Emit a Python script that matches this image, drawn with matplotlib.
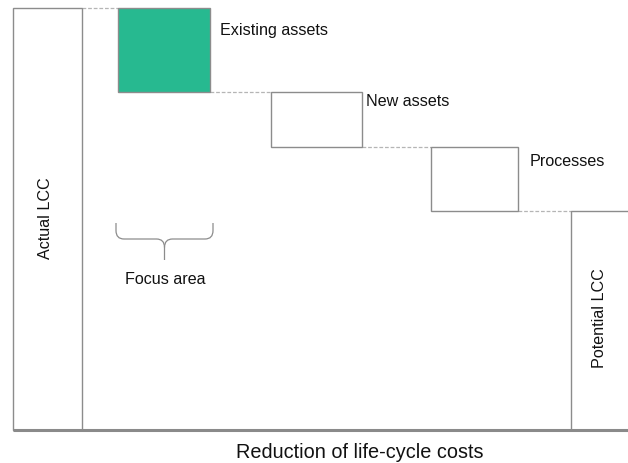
import matplotlib
matplotlib.use("Agg")
import matplotlib.pyplot as plt
from matplotlib.path import Path
from matplotlib.patches import PathPatch

plt.rcParams['font.family'] = ['Liberation Sans', 'DejaVu Sans']

# ---- data (LCC units, Actual LCC = 100) ----
categories = ["Actual LCC", "Existing assets", "New assets", "Processes", "Potential LCC"]
bottoms = [0, 80, 67, 52, 0]
heights = [100, 20, 13, 15, 52]
title_x = "Reduction of life-cycle costs"
focus_label = "Focus area"

# ---- layout (pixel-like x units) ----
lefts = [13, 118, 271, 431, 571]
widths = [69, 92, 91, 87, 80]
fills = ["white", "#27b990", "white", "white", "white"]
edge = "#8c8c8c"

W, H = 628, 463
fig = plt.figure(figsize=(W / 100, H / 100), dpi=100)
ax = fig.add_axes([0, 0, 1, 1])
ax.set_xlim(0, W)
scale = 4.22  # px per unit
ax.set_ylim(-(H - 430) / scale, 100 + 8 / scale)
ax.axis("off")


def py(p):
    """pixel row -> data y (layout helper for labels/annotations)"""
    return (430 - p) / scale


ax.bar(lefts, heights, bottom=bottoms, width=widths, align="edge",
       color=fills, edgecolor=edge, linewidth=1.0, zorder=2)

# dashed connectors between consecutive steps
for i in range(len(categories) - 1):
    level = bottoms[i] + heights[i] if i == 0 else bottoms[i]
    ax.plot([lefts[i] + widths[i], lefts[i + 1]], [level, level],
            color="#b5b5b5", linestyle=(0, (3, 1.5)), linewidth=0.9, zorder=1)

# base line
ax.plot([13, W], [0, 0], color="#8a8a8a", linewidth=2.2, zorder=3, solid_capstyle="butt")

# labels
fs = 11.6
tc = "#111111"
ax.text(220, py(30), categories[1], fontsize=fs, va="center", ha="left", color=tc)
ax.text(366, py(102), categories[2], fontsize=fs, va="center", ha="left", color=tc)
ax.text(530, py(161), categories[3], fontsize=fs, va="center", ha="left", color=tc)
ax.text(45, py(218), categories[0], fontsize=fs, va="center", ha="center", rotation=90, color=tc)
ax.text(599, py(318), categories[4], fontsize=fs, va="center", ha="center", rotation=90, color=tc)
ax.text(165, py(280), focus_label, fontsize=fs, va="center", ha="center", color=tc)
ax.text(360, py(452), title_x, fontsize=14.3, va="center", ha="center", color=tc)

# curly brace
xl, xr, xm = 116, 213, 164.5
yt, yh, ytip = py(223), py(239), py(260)
r = 8
verts = [
    (xl, yt), (xl, yh + 2.0), (xl, yh), (xl + r, yh),
    (xm - r, yh), (xm, yh), (xm, yh - 2.0), (xm, ytip),
]
codes = [Path.MOVETO, Path.LINETO, Path.CURVE3, Path.CURVE3,
         Path.LINETO, Path.CURVE3, Path.CURVE3, Path.LINETO]
verts2 = [
    (xr, yt), (xr, yh + 2.0), (xr, yh), (xr - r, yh),
    (xm + r, yh), (xm, yh), (xm, yh - 2.0),
]
codes2 = [Path.MOVETO, Path.LINETO, Path.CURVE3, Path.CURVE3,
          Path.LINETO, Path.CURVE3, Path.CURVE3]
for v, c in ((verts, codes), (verts2, codes2)):
    ax.add_patch(PathPatch(Path(v, c), facecolor="none", edgecolor="#8c8c8c", linewidth=0.9))

fig.savefig("out.png", dpi=100)
